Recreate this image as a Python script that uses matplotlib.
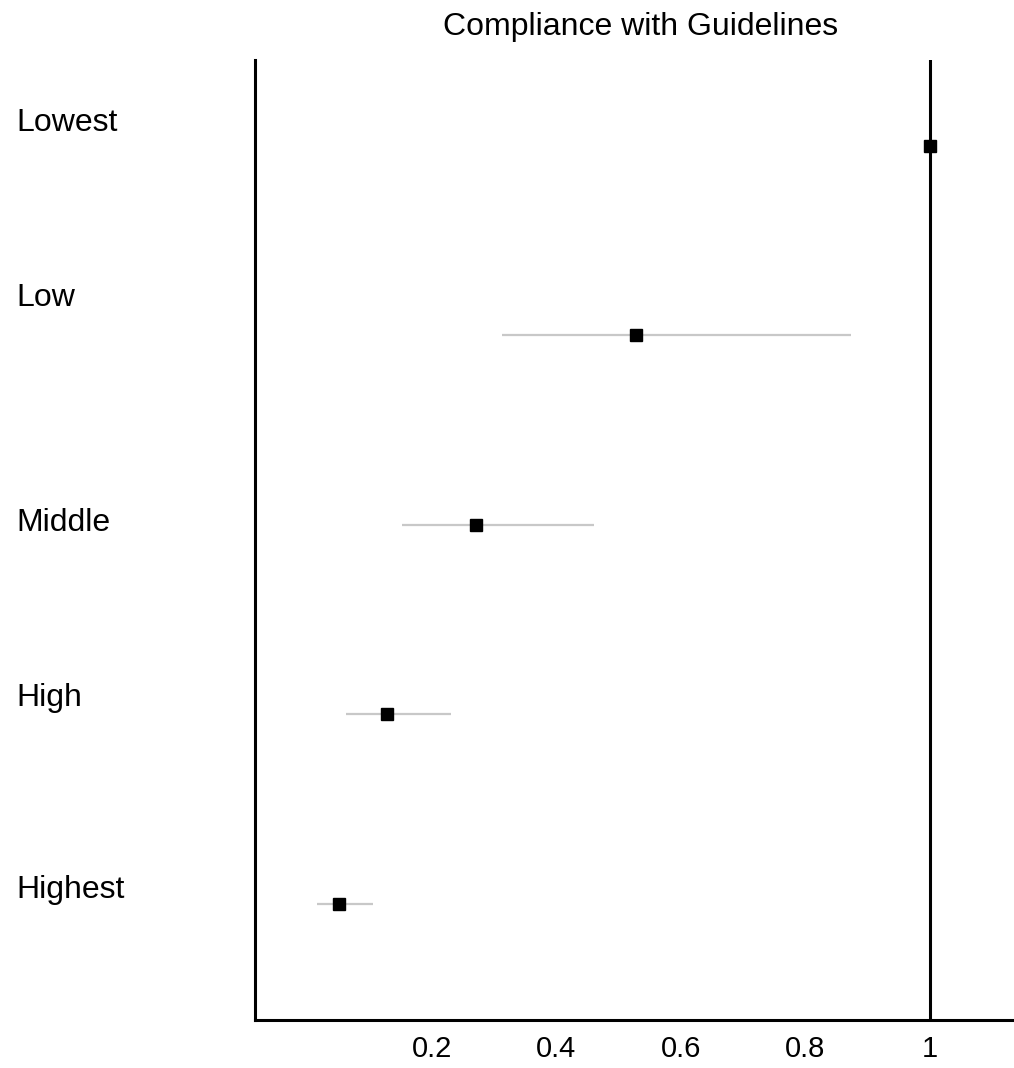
import matplotlib
matplotlib.use("Agg")
import matplotlib.pyplot as plt
from matplotlib.transforms import blended_transform_factory

plt.rcParams['font.family'] = ['Liberation Sans', 'DejaVu Sans']

# Data
categories = ["Lowest", "Low", "Middle", "High", "Highest"]
estimate = [1.0, 0.528, 0.271, 0.128, 0.051]
ci_low = [1.0, 0.312, 0.152, 0.062, 0.015]
ci_high = [1.0, 0.873, 0.460, 0.230, 0.105]
tick_values = [0.2, 0.4, 0.6, 0.8, 1.0]
tick_labels = ["0.2", "0.4", "0.6", "0.8", "1"]
title = "Compliance with Guidelines"

# style: small vertical nudges for the row labels (in row units)
label_nudge = [-0.12, -0.195, -0.01, -0.085, -0.07]

fig = plt.figure(figsize=(10.14, 10.68), dpi=100)
ax = fig.add_axes([255/1014, 1-1020/1068, 1-255/1014, (1020-60)/1068])

rows = list(range(len(categories)))
for r, e, lo, hi in zip(rows, estimate, ci_low, ci_high):
    ax.plot([lo, hi], [r, r], color="#c8c8c8", lw=1.6, solid_capstyle="butt", zorder=2)
ax.plot(estimate, rows, ls="none", marker="s", ms=8.5, color="black", zorder=3)

ax.axvline(1.0, color="black", lw=2.2, zorder=1)

ax.set_xlim(-0.084, 1.135)
ax.set_ylim(4.615, -0.454)

ax.spines['top'].set_visible(False)
ax.spines['right'].set_visible(False)
ax.spines['left'].set_linewidth(2.2)
ax.spines['bottom'].set_linewidth(2.2)

ax.set_xticks(tick_values)
ax.set_xticklabels(tick_labels, fontsize=21)
ax.tick_params(axis='x', length=0, pad=11)
ax.set_yticks([])

trans = blended_transform_factory(fig.transFigure, ax.transData)
for r, name, nd in zip(rows, categories, label_nudge):
    ax.text(16/1014, r + nd, name, transform=trans, ha="left", va="center", fontsize=23)

fig.text(641/1014, 1-27/1068, title, ha="center", va="center", fontsize=23)

fig.savefig("out.png", dpi=100)
